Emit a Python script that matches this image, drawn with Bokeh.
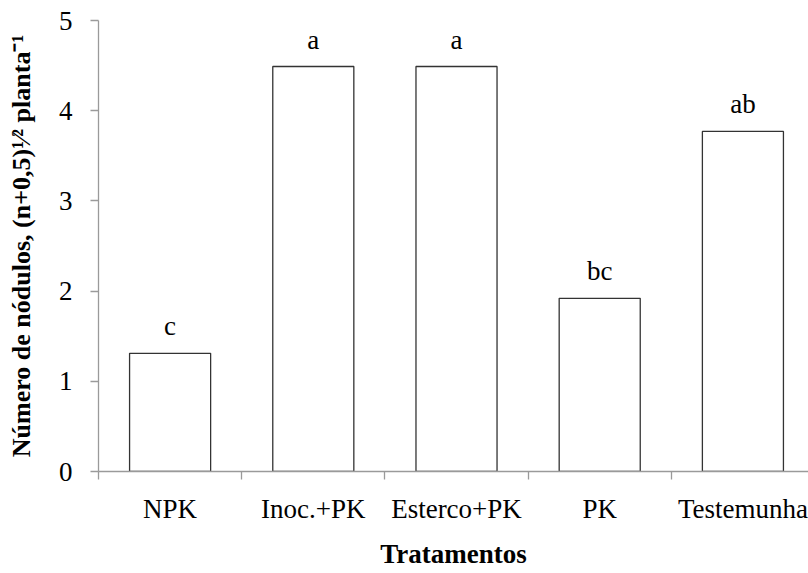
from bokeh.plotting import figure
from bokeh.models import ColumnDataSource, FixedTicker, LabelSet, Range1d
from bokeh.embed import file_html
from bokeh.resources import INLINE

categories = ["NPK", "Inoc.+PK", "Esterco+PK", "PK", "Testemunha"]
values = [1.31, 4.49, 4.49, 1.92, 3.77]
letters = ["c", "a", "a", "bc", "ab"]
y_ticks = [0, 1, 2, 3, 4, 5]
x_title = "Tratamentos"
y_title = "Número de nódulos, (n+0,5)\u00b9\u2044\u00b2 planta\u207b\u00b9"

xs = [i + 0.5 for i in range(len(categories))]
source = ColumnDataSource(dict(x=xs, top=values, cat=categories, letter=letters))

FONT = "Liberation Serif"
AXIS_COLOR = "#9a9a9a"
X_END = 4.958

p = figure(width=808, height=573, output_backend="svg", toolbar_location=None,
           x_range=Range1d(0, X_END), y_range=Range1d(0, 5),
           min_border_left=98, min_border_right=0, min_border_top=20, min_border_bottom=102)
p.outline_line_color = None
p.grid.visible = False
p.background_fill_color = "white"
p.border_fill_color = "white"

p.vbar(x="x", top="top", bottom=0, width=0.566, source=source,
       fill_color="white", line_color="#333333", line_width=1.3)

labels = LabelSet(x="x", y="top", text="letter", source=source, y_offset=18,
                  text_align="center", text_baseline="alphabetic",
                  text_font=FONT, text_font_size="27px", text_color="black")
p.add_layout(labels)

# x axis: labels at category centres, ticks at category boundaries
xa = p.xaxis[0]
xa.ticker = FixedTicker(ticks=xs, minor_ticks=list(range(len(categories) + 1)))
xa.major_label_overrides = {x: c for x, c in zip(xs, categories)}
xa.major_tick_out = 0
xa.major_tick_in = 0
xa.minor_tick_out = 8
xa.minor_tick_in = 0
xa.minor_tick_line_color = AXIS_COLOR
xa.minor_tick_line_width = 1.3
xa.axis_line_color = AXIS_COLOR
xa.axis_line_width = 1.3
xa.major_label_text_font = FONT
xa.major_label_text_font_size = "27px"
xa.major_label_text_color = "black"
xa.major_label_standoff = 14
xa.axis_label = x_title
xa.axis_label_text_font = FONT
xa.axis_label_text_font_size = "27px"
xa.axis_label_text_font_style = "bold"
xa.axis_label_text_color = "black"
xa.axis_label_standoff = 12

ya = p.yaxis[0]
ya.ticker = FixedTicker(ticks=y_ticks, minor_ticks=[])
ya.major_tick_out = 8
ya.major_tick_in = 0
ya.major_tick_line_color = AXIS_COLOR
ya.axis_line_color = AXIS_COLOR
ya.axis_line_width = 1.3
ya.major_tick_line_width = 1.3
ya.major_label_text_font = FONT
ya.major_label_text_font_size = "27px"
ya.major_label_text_color = "black"
ya.major_label_standoff = 18
ya.axis_label = y_title
ya.axis_label_text_font = FONT
ya.axis_label_text_font_size = "26px"
ya.axis_label_text_font_style = "bold"
ya.axis_label_text_color = "black"
ya.axis_label_standoff = 20

open("out.html", "w").write(file_html(p, INLINE))
